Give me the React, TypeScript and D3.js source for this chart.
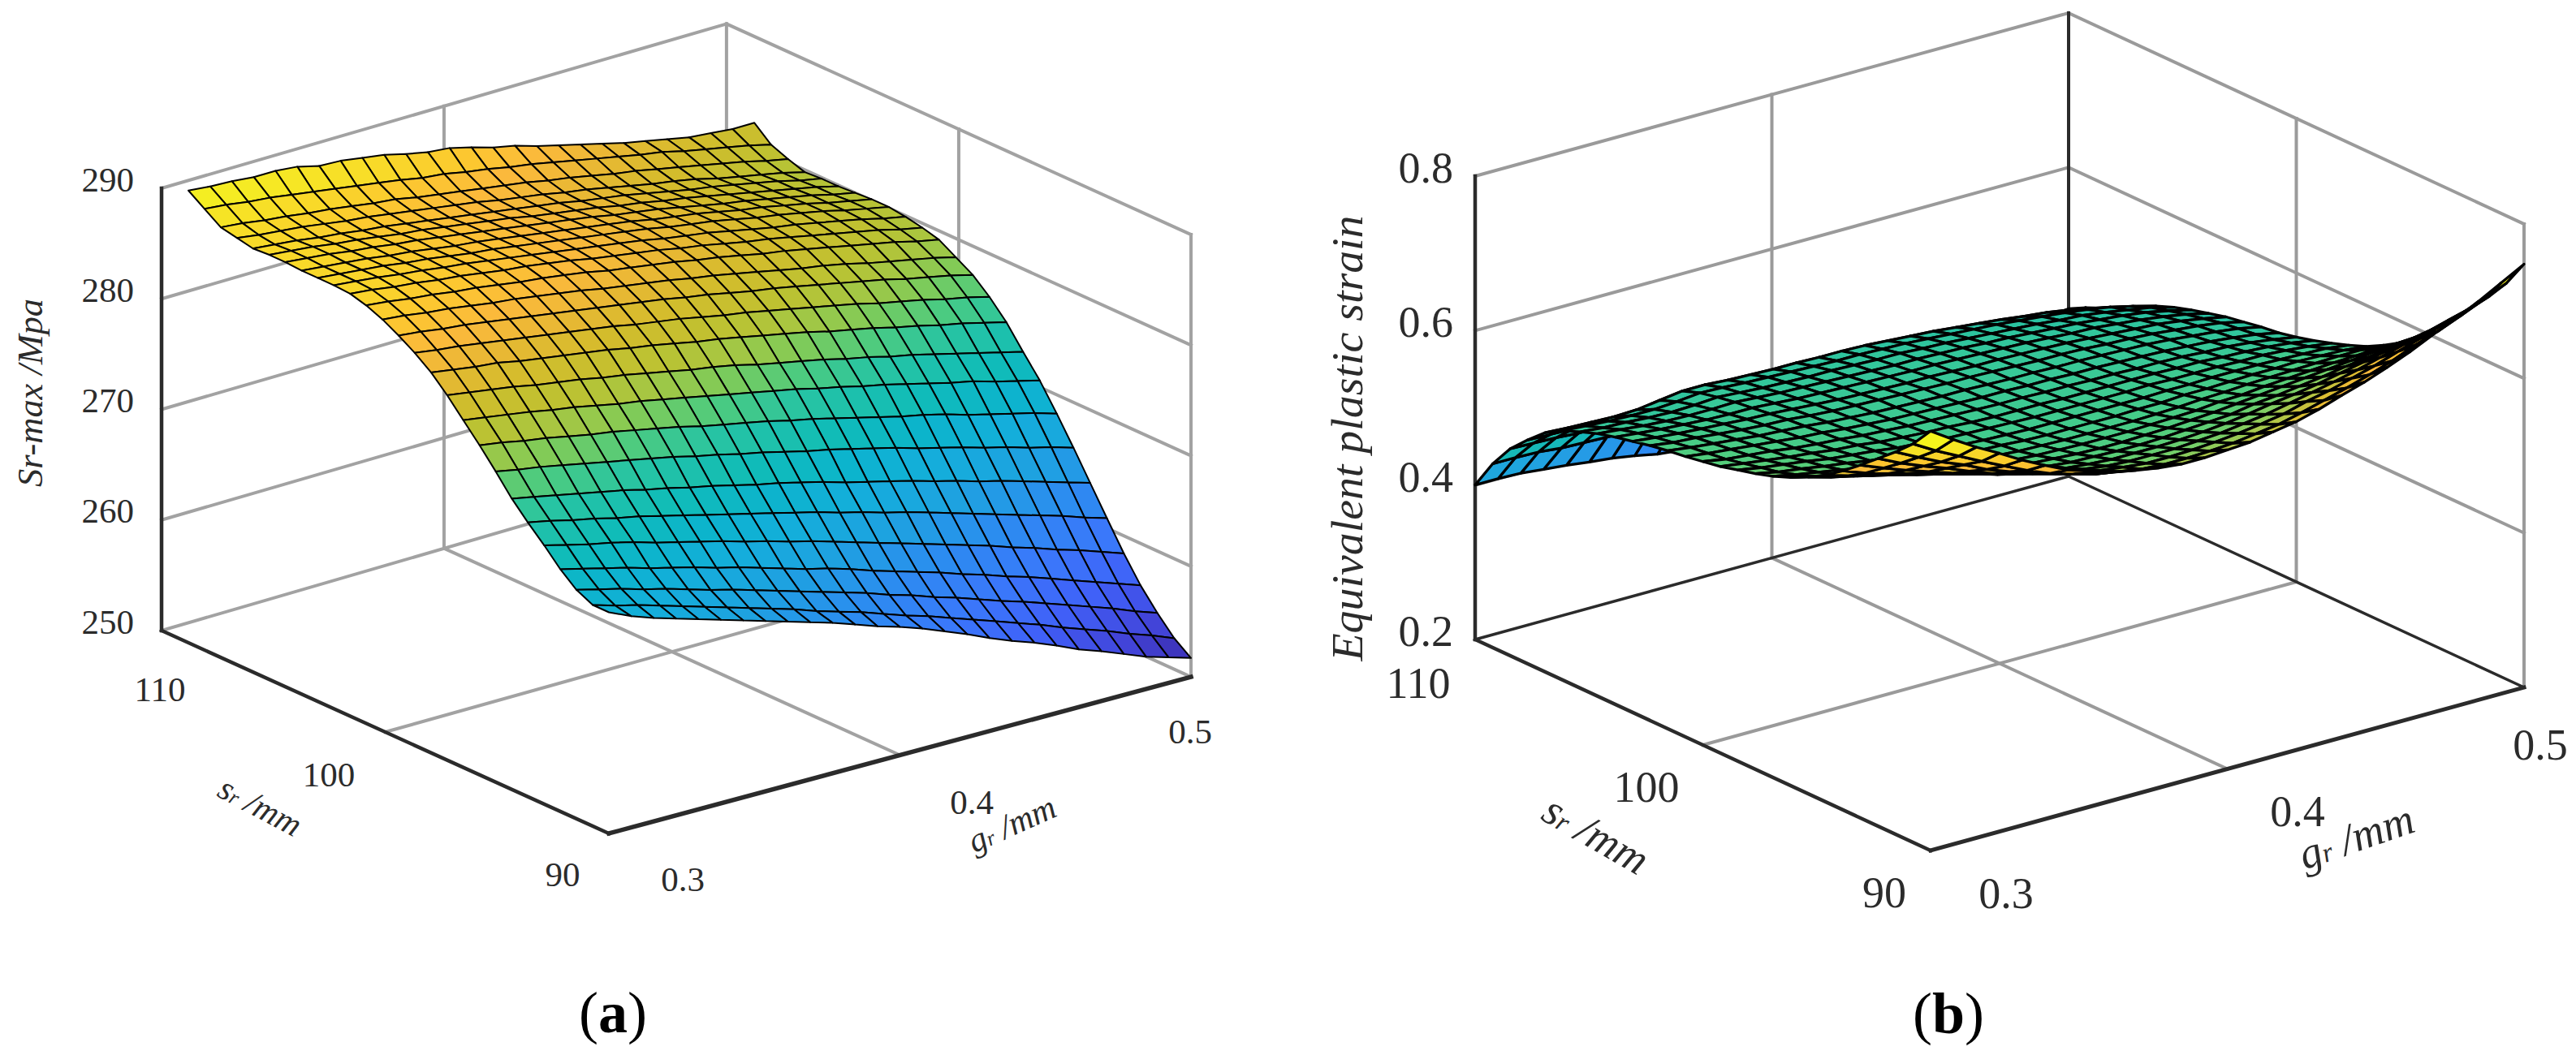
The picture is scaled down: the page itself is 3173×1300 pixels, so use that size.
import React from "react";
import * as d3 from "d3";

// ---------- shared axes data ----------
const grValues = [.3,.3077,.3154,.3231,.3308,.3385,.3462,.3538,.3615,.3692,.3769,.3846,.3923,.4,.4077,.4154,.4231,.4308,.4385,.4462,.4538,.4615,.4692,.4769,.4846,.4923,.5];
const srValuesA = [90,90.72,91.45,92.17,92.89,93.62,94.34,95.06,95.78,96.51,97.23,97.95,98.68,99.4,100.12,100.85,101.57,102.29,103.02,103.74,104.46,105.18,105.91,106.63,107.35,108.08,108.8];
const srValuesB = [90,90.77,91.54,92.31,93.08,93.85,94.62,95.38,96.15,96.92,97.69,98.46,99.23,100,100.77,101.54,102.31,103.08,103.85,104.62,105.38,106.15,106.92,107.69,108.46,109.23,110];
const zTicksA = [250,260,270,280,290];
const zTicksB = [0.2,0.4,0.6,0.8];
const srTicks = [90,100,110];
const grTicks = [0.3,0.4,0.5];

// ---------- surface (a): Sr-max (MPa), one row per sr value, one column per gr value ----------
const surfaceA = [
[270.0,269.1,268.4,267.8,267.2,266.6,266.0,265.4,264.8,264.2,263.6,262.9,262.2,261.6,260.9,260.1,259.3,258.4,257.6,256.9,256.1,255.2,254.5,253.7,252.9,252.3,251.7],
[270.0,269.4,268.9,268.3,267.7,267.1,266.5,265.9,265.3,264.7,264.0,263.4,262.8,262.1,261.4,260.8,260.1,259.4,258.7,258.0,257.3,256.5,255.8,255.1,254.3,253.6,252.8],
[270.7,270.2,269.7,269.1,268.6,268.0,267.4,266.9,266.3,265.7,265.1,264.5,263.9,263.3,262.6,262.0,261.3,260.7,260.0,259.3,258.7,258.0,257.3,256.6,255.9,255.1,254.4],
[271.9,271.4,270.9,270.4,269.8,269.3,268.8,268.2,267.7,267.1,266.5,265.9,265.4,264.8,264.1,263.5,262.9,262.3,261.6,261.0,260.3,259.7,259.0,258.3,257.6,256.9,256.2],
[273.4,272.9,272.4,272.0,271.5,270.9,270.4,269.9,269.4,268.8,268.3,267.7,267.2,266.6,266.0,265.4,264.8,264.2,263.6,263.0,262.4,261.7,261.1,260.4,259.8,259.1,258.4],
[274.8,274.4,273.9,273.5,273.0,272.6,272.1,271.6,271.1,270.6,270.1,269.6,269.1,268.6,268.0,267.5,266.9,266.4,265.8,265.2,264.6,264.0,263.4,262.8,262.2,261.5,260.9],
[276.3,275.9,275.5,275.1,274.7,274.3,273.8,273.4,272.9,272.5,272.0,271.5,271.1,270.6,270.1,269.5,269.0,268.5,268.0,267.4,266.9,266.3,265.8,265.2,264.6,264.0,263.4],
[278.1,277.7,277.4,277.0,276.6,276.2,275.8,275.4,275.0,274.5,274.1,273.6,273.2,272.7,272.2,271.8,271.3,270.8,270.3,269.7,269.2,268.7,268.1,267.6,267.0,266.5,265.9],
[279.8,279.5,279.1,278.8,278.4,278.0,277.7,277.3,276.9,276.5,276.0,275.6,275.2,274.8,274.3,273.9,273.4,272.9,272.4,271.9,271.5,271.0,270.4,269.9,269.4,268.9,268.3],
[281.4,281.1,280.8,280.5,280.1,279.8,279.4,279.0,278.7,278.3,277.9,277.5,277.1,276.7,276.3,275.9,275.4,275.0,274.5,274.1,273.6,273.1,272.6,272.2,271.6,271.1,270.6],
[283.0,282.7,282.4,282.1,281.7,281.4,281.1,280.7,280.4,280.0,279.6,279.2,278.9,278.5,278.0,277.6,277.2,276.8,276.3,275.9,275.4,275.0,274.5,274.0,273.5,273.0,272.5],
[284.4,284.1,283.8,283.6,283.2,282.9,282.6,282.3,282.0,281.6,281.3,280.9,280.5,280.2,279.8,279.4,279.0,278.6,278.1,277.7,277.3,276.8,276.4,275.9,275.5,275.0,274.5],
[285.5,285.2,285.0,284.7,284.4,284.1,283.8,283.5,283.2,282.9,282.5,282.2,281.9,281.5,281.1,280.8,280.4,280.0,279.6,279.2,278.8,278.3,277.9,277.5,277.0,276.6,276.1],
[286.4,286.2,285.9,285.7,285.4,285.1,284.8,284.5,284.2,283.9,283.6,283.3,283.0,282.6,282.3,281.9,281.5,281.2,280.8,280.4,280.0,279.6,279.2,278.7,278.3,277.9,277.4],
[287.2,287.0,286.7,286.5,286.2,285.9,285.7,285.4,285.1,284.8,284.4,284.1,283.8,283.5,283.1,282.8,282.4,282.0,281.6,281.2,280.9,280.5,280.0,279.6,279.2,278.8,278.3],
[287.8,287.6,287.3,287.1,286.8,286.6,286.3,286.0,285.8,285.5,285.2,284.8,284.5,284.2,283.9,283.5,283.2,282.8,282.4,282.1,281.7,281.3,280.9,280.5,280.1,279.6,279.2],
[288.2,288.0,287.7,287.5,287.2,287.0,286.7,286.4,286.2,285.9,285.6,285.2,284.9,284.6,284.3,283.9,283.6,283.2,282.8,282.5,282.1,281.7,281.3,280.9,280.5,280.0,279.6],
[288.3,288.1,287.9,287.6,287.4,287.1,286.9,286.6,286.3,286.0,285.7,285.4,285.1,284.8,284.5,284.1,283.8,283.5,283.1,282.7,282.3,282.0,281.6,281.2,280.8,280.3,279.9],
[288.3,288.1,287.9,287.7,287.4,287.2,286.9,286.6,286.4,286.1,285.8,285.5,285.2,284.9,284.6,284.3,283.9,283.6,283.3,282.9,282.5,282.2,281.8,281.4,280.9,280.5,280.1],
[288.3,288.1,287.9,287.7,287.4,287.2,286.9,286.6,286.4,286.1,285.8,285.5,285.2,284.9,284.6,284.3,283.9,283.6,283.3,282.9,282.5,282.2,281.8,281.4,280.9,280.5,280.1],
[288.4,288.2,288.0,287.7,287.5,287.2,287.0,286.7,286.4,286.1,285.8,285.5,285.2,284.9,284.6,284.2,283.9,283.6,283.2,282.8,282.4,282.1,281.7,281.3,280.9,280.4,280.0],
[288.4,288.2,288.0,287.7,287.5,287.2,286.9,286.7,286.4,286.1,285.8,285.5,285.1,284.8,284.5,284.2,283.8,283.5,283.1,282.8,282.4,282.0,281.6,281.2,280.8,280.4,279.9],
[288.3,288.1,287.9,287.6,287.4,287.1,286.9,286.6,286.3,286.0,285.7,285.4,285.1,284.8,284.5,284.1,283.8,283.5,283.1,282.7,282.3,282.0,281.6,281.2,280.8,280.3,279.9],
[288.6,288.3,288.1,287.9,287.6,287.3,287.1,286.8,286.5,286.2,285.9,285.6,285.2,284.9,284.6,284.2,283.9,283.5,283.1,282.7,282.4,282.0,281.5,281.1,280.7,280.3,279.8],
[288.9,288.7,288.4,288.2,287.9,287.7,287.4,287.1,286.9,286.5,286.2,285.9,285.6,285.3,285.0,284.6,284.3,283.9,283.5,283.2,282.8,282.4,282.0,281.6,281.2,280.7,280.3],
[289.9,289.7,289.4,289.2,288.9,288.6,288.3,288.0,287.7,287.4,287.0,286.8,286.4,286.1,285.7,285.4,285.0,284.6,284.2,283.8,283.4,283.1,282.6,282.2,281.8,281.4,280.9],
[290.9,290.7,290.6,290.4,290.4,290.2,289.7,289.6,289.3,289.0,288.5,288.1,287.9,287.4,286.8,286.4,285.8,285.3,284.8,284.3,283.8,283.4,283.0,282.6,282.4,282.2,282.2],
];

// ---------- surface (b): equivalent plastic strain ----------
const surfaceB = [
[.743,.724,.706,.690,.673,.658,.644,.634,.625,.619,.614,.611,.611,.613,.615,.620,.625,.633,.643,.652,.663,.675,.689,.702,.716,.732,.748],
[.716,.699,.684,.669,.655,.641,.629,.620,.612,.607,.602,.600,.600,.601,.603,.607,.611,.618,.626,.634,.643,.653,.665,.675,.687,.700,.713],
[.695,.680,.666,.654,.640,.629,.618,.610,.602,.598,.594,.591,.591,.592,.594,.597,.601,.606,.614,.620,.628,.636,.646,.655,.665,.675,.685],
[.676,.662,.650,.639,.627,.616,.607,.600,.593,.589,.585,.583,.583,.583,.585,.587,.591,.595,.601,.607,.613,.620,.628,.636,.643,.652,.660],
[.657,.645,.634,.624,.614,.605,.596,.590,.584,.580,.577,.575,.575,.575,.576,.578,.581,.585,.590,.594,.599,.605,.611,.617,.623,.629,.635],
[.639,.628,.619,.611,.602,.594,.587,.581,.576,.572,.569,.568,.567,.567,.568,.570,.572,.574,.579,.582,.586,.590,.595,.599,.603,.608,.611],
[.623,.614,.606,.599,.591,.584,.578,.573,.568,.565,.563,.561,.560,.560,.561,.562,.564,.566,.569,.572,.575,.578,.581,.584,.587,.590,.591],
[.610,.602,.595,.589,.582,.576,.571,.566,.562,.559,.557,.556,.555,.555,.555,.556,.557,.558,.561,.562,.565,.567,.569,.571,.572,.574,.573],
[.599,.592,.586,.580,.575,.569,.565,.560,.557,.554,.552,.551,.550,.550,.550,.550,.551,.552,.554,.555,.557,.558,.559,.560,.561,.561,.559],
[.590,.584,.579,.574,.568,.564,.560,.556,.553,.550,.549,.547,.546,.546,.546,.546,.547,.547,.549,.549,.550,.551,.551,.552,.551,.550,.547],
[.583,.577,.573,.568,.564,.559,.556,.552,.549,.547,.545,.544,.543,.543,.543,.543,.543,.543,.544,.544,.545,.545,.545,.544,.543,.542,.538],
[.577,.572,.568,.564,.559,.556,.553,.549,.547,.544,.543,.542,.541,.540,.540,.540,.540,.540,.541,.540,.540,.540,.539,.539,.537,.534,.530],
[.571,.567,.563,.559,.556,.552,.550,.546,.544,.542,.541,.539,.538,.538,.538,.537,.537,.537,.537,.537,.536,.536,.534,.533,.531,.528,.523],
[.567,.562,.559,.556,.552,.549,.547,.544,.542,.540,.539,.538,.537,.536,.536,.535,.535,.534,.534,.533,.533,.532,.530,.529,.526,.522,.517],
[.563,.559,.556,.553,.550,.547,.545,.542,.540,.538,.537,.536,.535,.534,.534,.533,.533,.532,.532,.531,.530,.529,.527,.525,.522,.518,.512],
[.560,.556,.553,.550,.547,.545,.543,.540,.538,.536,.535,.534,.533,.533,.532,.531,.531,.530,.530,.529,.528,.527,.525,.522,.519,.515,.509],
[.556,.552,.550,.547,.544,.542,.541,.538,.536,.535,.534,.533,.532,.531,.531,.530,.529,.528,.528,.527,.525,.524,.522,.519,.516,.512,.505],
[.551,.548,.545,.543,.541,.539,.538,.536,.534,.532,.531,.530,.529,.529,.528,.527,.527,.526,.525,.524,.522,.520,.518,.516,.512,.507,.501],
[.546,.543,.540,.538,.536,.535,.535,.533,.531,.530,.529,.528,.527,.526,.526,.525,.524,.523,.522,.520,.518,.517,.514,.511,.507,.502,.495],
[.540,.537,.534,.532,.531,.531,.532,.530,.528,.527,.526,.525,.524,.523,.523,.522,.521,.519,.518,.516,.514,.512,.509,.506,.502,.496,.489],
[.532,.529,.528,.526,.525,.526,.528,.526,.524,.523,.522,.522,.521,.520,.520,.518,.517,.515,.513,.511,.509,.506,.504,.500,.495,.490,.482],
[.523,.521,.519,.518,.518,.520,.523,.522,.520,.519,.518,.517,.516,.516,.515,.514,.512,.510,.508,.506,.503,.500,.497,.493,.488,.481,.473],
[.510,.508,.507,.506,.507,.511,.515,.515,.513,.512,.511,.511,.510,.510,.509,.507,.505,.503,.500,.497,.494,.490,.487,.482,.476,.469,.460],
[.490,.489,.488,.486,.486,.489,.492,.491,.488,.487,.486,.486,.485,.486,.485,.484,.484,.483,.481,.479,.475,.472,.469,.465,.461,.455,.449],
[.468,.467,.466,.464,.464,.465,.466,.464,.461,.459,.457,.457,.458,.459,.459,.459,.460,.460,.459,.459,.456,.454,.452,.450,.447,.444,.439],
[.438,.438,.437,.434,.433,.432,.431,.428,.423,.421,.419,.419,.420,.422,.424,.426,.428,.430,.430,.432,.432,.432,.432,.432,.431,.430,.429],
[.400,.400,.399,.396,.393,.389,.386,.381,.375,.372,.370,.370,.372,.375,.378,.382,.386,.390,.393,.397,.400,.404,.407,.410,.413,.415,.417],
];

// ---------- colour stops ----------
const colorDomainA = [251.5,254,257,260,263,266,268.5,270.5,272.5,275,276.5,278,279.2,280.5,282.5,284,285.5,287,288.5,291];
const colorRangeA = ["#3b2bab","#4244d8","#4060f8","#3a78fa","#2c8cf0","#1ea2e0","#14aedb","#0cb4cc","#10bcb8","#28c4a2","#4ccb80","#80cb58","#a4c744","#bcc232","#d4bc2c","#e8b834","#fbb93c","#fcc830","#f8dc28","#f3f520"];
const colorDomainB = [.37,.40,.42,.44,.46,.50,.53,.55,.57,.59,.605,.625,.64,.66,.69,.715];
const colorRangeB = ["#2f7df8","#2e88f4","#1ea8dc","#14b4c4","#18bcb0","#26c2a4","#38c898","#46cc88","#58ce78","#78cf68","#a8c84c","#e0bc30","#fbb93c","#fdc42e","#f8d828","#f5f51c"];

const SERIF = "'Liberation Serif','Times New Roman',serif";
const INK = "#2b2b2b";

type Panel = {
  F: [number, number]; A: [number, number]; R: [number, number];
  height: number; zTicks: number[]; z: number[][]; sr: number[];
  domain: number[]; range: string[]; srSkew: number; meshWidth: number;
  darkBack: boolean; gridColor: string; axisWidth: [number, number]; zAxisWidth: number;
  zFormat: (v: number) => string; fontSize: number; zLabelX: number; zLabelDy: number;
  srLabelPos: [number, number][]; grLabelPos: [number, number][];
};

const panelA: Panel = {
  F: [750, 1027], A: [199, 777], R: [1467, 834], height: 545, zTicks: zTicksA, z: surfaceA, sr: srValuesA,
  domain: colorDomainA, range: colorRangeA, srSkew: 0.0383, meshWidth: 2,
  darkBack: false, gridColor: "#a2a2a2", axisWidth: [4.5, 5.5], zAxisWidth: 4.5,
  zFormat: (v) => String(v), fontSize: 43, zLabelX: 165, zLabelDy: -11,
  srLabelPos: [[693, 1077], [405, 954], [197, 849]],
  grLabelPos: [[841, 1083], [1197, 988], [1466, 901]],
};
const panelB: Panel = {
  F: [2378, 1048], A: [1817, 788], R: [3109, 847], height: 571, zTicks: zTicksB, z: surfaceB, sr: srValuesB,
  domain: colorDomainB, range: colorRangeB, srSkew: 0, meshWidth: 3.3,
  darkBack: true, gridColor: "#9a9a9a", axisWidth: [4.5, 5], zAxisWidth: 4.5,
  zFormat: (v) => v.toFixed(1), fontSize: 54, zLabelX: 1790, zLabelDy: -10,
  srLabelPos: [[2321, 1100], [2028, 970], [1747, 842]],
  grLabelPos: [[2471, 1101], [2830, 1000], [3129, 918]],
};

function Surface3D({ p }: { p: Panel }) {
  const sFrac = d3.scaleLinear().domain([90, 110]).range([0, 1]);
  const gFrac = d3.scaleLinear().domain([0.3, 0.5]).range([0, 1]);
  const zPx = d3.scaleLinear().domain(d3.extent(p.zTicks) as [number, number]).range([0, p.height]);
  const color = d3.scaleLinear<string>().domain(p.domain).range(p.range).clamp(true);

  const sV: [number, number] = [p.A[0] - p.F[0], p.A[1] - p.F[1]];
  const gV: [number, number] = [p.R[0] - p.F[0], p.R[1] - p.F[1]];
  const ground = (sr: number, gr: number): [number, number] => {
    const g = gFrac(gr);
    const s = sFrac(sr) * (1 + p.srSkew * g);
    return [p.F[0] + sV[0] * s + gV[0] * g, p.F[1] + sV[1] * s + gV[1] * g];
  };
  const at = (sr: number, gr: number, z: number): [number, number] => {
    const [x, y] = ground(sr, gr);
    return [x, y - zPx(z)];
  };
  // orthographic depth along the view direction, from the box's own screen vectors
  const sinE = -gV[1] / Math.abs(sV[0]);
  const tanE = Math.tan(Math.asin(sinE));
  const depth = (sr: number, gr: number, z: number) => {
    const [, y] = ground(sr, gr);
    return (p.F[1] - y) / tanE - zPx(z) * tanE;
  };

  const line = d3.line();
  const faces: { d: string; fill: string; depth: number }[] = [];
  for (let i = 0; i < p.sr.length - 1; i++) {
    for (let j = 0; j < grValues.length - 1; j++) {
      const corners: [number, number][] = [[i, j], [i + 1, j], [i + 1, j + 1], [i, j + 1]];
      const pts = corners.map(([a, b]) => at(p.sr[a], grValues[b], p.z[a][b]));
      const mean = d3.mean(corners, ([a, b]) => p.z[a][b]) as number;
      const dep = d3.mean(corners, ([a, b]) => depth(p.sr[a], grValues[b], p.z[a][b])) as number;
      faces.push({ d: (line(pts) as string) + "Z", fill: color(mean), depth: dep });
    }
  }
  faces.sort((u, v) => v.depth - u.depth);

  const zMin = d3.min(p.zTicks) as number;
  const zMax = d3.max(p.zTicks) as number;
  const corner = (sr: number, gr: number, z: number) => at(sr, gr, z);
  const seg = (a: [number, number], b: [number, number], stroke: string, w: number, key: string) => (
    <line key={key} x1={a[0]} y1={a[1]} x2={b[0]} y2={b[1]} stroke={stroke} strokeWidth={w} strokeLinecap="square" />
  );

  const grid: React.ReactNode[] = [];
  p.zTicks.forEach((t, k) => {
    if (t !== zMin) {
      grid.push(seg(corner(110, 0.3, t), corner(110, 0.5, t), p.gridColor, 4, `lw${k}`));
      grid.push(seg(corner(110, 0.5, t), corner(90, 0.5, t), p.gridColor, 4, `rw${k}`));
    }
  });
  grid.push(seg(corner(110, 0.4, zMin), corner(110, 0.4, zMax), p.gridColor, 4, "v1"));
  grid.push(seg(corner(100, 0.5, zMin), corner(100, 0.5, zMax), p.gridColor, 4, "v2"));
  grid.push(seg(corner(90, 0.5, zMin), corner(90, 0.5, zMax), p.gridColor, 4, "v3"));
  grid.push(seg(corner(100, 0.3, zMin), corner(100, 0.5, zMin), p.gridColor, 4, "f1"));
  grid.push(seg(corner(90, 0.4, zMin), corner(110, 0.4, zMin), p.gridColor, 4, "f2"));
  const backColor = p.darkBack ? INK : p.gridColor;
  grid.push(seg(corner(110, 0.5, zMin), corner(110, 0.5, zMax), backColor, 4, "b1"));
  grid.push(seg(corner(110, 0.3, zMin), corner(110, 0.5, zMin), backColor, p.darkBack ? 3.5 : 4, "b2"));
  grid.push(seg(corner(110, 0.5, zMin), corner(90, 0.5, zMin), backColor, p.darkBack ? 3.5 : 4, "b3"));

  const axes = [
    seg(corner(90, 0.3, zMin), corner(110, 0.3, zMin), INK, p.axisWidth[0], "a1"),
    seg(corner(90, 0.3, zMin), corner(90, 0.5, zMin), INK, p.axisWidth[1], "a2"),
    seg(corner(110, 0.3, zMin), corner(110, 0.3, zMax), INK, p.zAxisWidth, "a3"),
  ];

  const labelStyle = { fontFamily: SERIF, fontSize: p.fontSize, fill: INK };
  return (
    <g>
      {grid}
      {axes}
      <g stroke="#000" strokeWidth={p.meshWidth} strokeLinejoin="round">
        {faces.map((f, i) => <path key={i} d={f.d} fill={f.fill} />)}
      </g>
      {p.zTicks.map((t) => (
        <text key={t} x={p.zLabelX} y={corner(110, 0.3, t)[1] + p.zLabelDy} textAnchor="end" dominantBaseline="central" style={labelStyle}>
          {p.zFormat(t)}
        </text>
      ))}
      {srTicks.map((t, k) => (
        <text key={t} x={p.srLabelPos[k][0]} y={p.srLabelPos[k][1]} textAnchor="middle" dominantBaseline="central" style={labelStyle}>{t}</text>
      ))}
      {grTicks.map((t, k) => (
        <text key={t} x={p.grLabelPos[k][0]} y={p.grLabelPos[k][1]} textAnchor="middle" dominantBaseline="central" style={labelStyle}>{t.toFixed(1)}</text>
      ))}
    </g>
  );
}

function AxisName({ x, y, rot, size, sym, sub }: { x: number; y: number; rot: number; size: number; sym: string; sub: string }) {
  return (
    <text transform={`translate(${x},${y}) rotate(${rot})`} textAnchor="middle" fontFamily={SERIF} fontStyle="italic" fontSize={size} fill={INK}>
      {sym}
      <tspan fontSize={size * 0.62}>r</tspan>
      {sub}
    </text>
  );
}

export default function App() {
  return (
    <svg width={3173} height={1300} viewBox="0 0 3173 1300" style={{ position: "absolute", left: 0, top: 0, display: "block", background: "#fff" }}>
      <Surface3D p={panelA} />
      <Surface3D p={panelB} />

      <text transform="translate(52,484) rotate(-90)" textAnchor="middle" fontFamily={SERIF} fontStyle="italic" fontSize={44} fill={INK} textLength={232} lengthAdjust="spacingAndGlyphs">Sr-max /Mpa</text>
      <AxisName x={314} y={1006} rot={28} size={42} sym="s" sub=" /mm" />
      <AxisName x={1252} y={1028} rot={-24} size={42} sym="g" sub=" /mm" />

      <text transform="translate(1678,540) rotate(-90)" textAnchor="middle" fontFamily={SERIF} fontStyle="italic" fontSize={54} fill={INK} textLength={549} lengthAdjust="spacingAndGlyphs">Equivalent plastic strain</text>
      <AxisName x={1957} y={1044} rot={30} size={54} sym="s" sub=" /mm" />
      <AxisName x={2908} y={1048} rot={-19} size={54} sym="g" sub=" /mm" />

      <text x={755} y={1272} textAnchor="middle" fontFamily={SERIF} fontSize={72} fill="#000">(<tspan fontWeight="bold">a</tspan>)</text>
      <text x={2400} y={1273} textAnchor="middle" fontFamily={SERIF} fontSize={72} fill="#000">(<tspan fontWeight="bold">b</tspan>)</text>
    </svg>
  );
}
